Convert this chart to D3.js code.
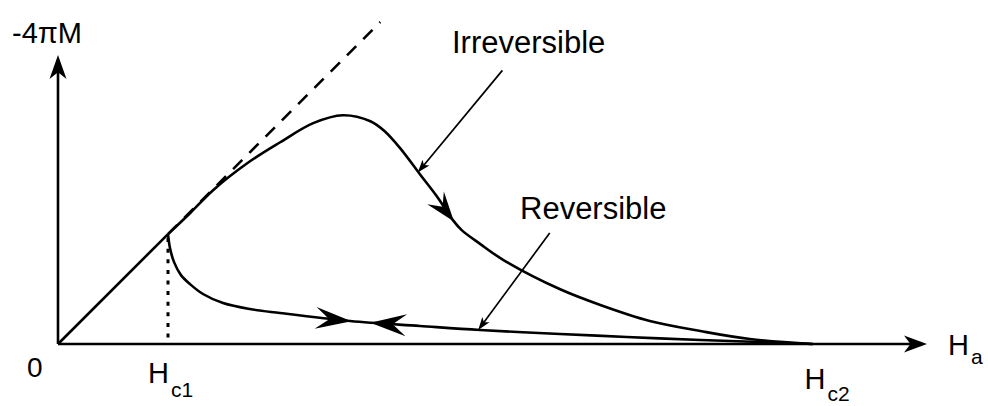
<!DOCTYPE html>
<html>
<head>
<meta charset="utf-8">
<script src="https://cdn.jsdelivr.net/npm/d3@7"></script>
<style>
  html, body { margin: 0; padding: 0; background: #fff; }
  svg { display: block; }
  text { font-family: "Liberation Sans", Arial, Helvetica, sans-serif; fill: #000; }
</style>
</head>
<body>
<svg id="chart" width="988" height="406"></svg>
<script>
// Magnetization of a type-II superconductor versus applied field.
// Field values are in units of Hc1; -4πM uses the same units (Meissner slope = 1).

const hc1 = 1.0;
const hc2 = 6.86;
const meissnerEnd = 2.93;

// Irreversible (pinned) branch, increasing field
const irreversibleH = [1.0, 1.2, 1.41, 1.72, 2.02, 2.32, 2.59, 2.84, 2.97, 3.11, 3.29, 3.45, 3.59, 3.67, 3.84, 4.05, 4.56, 4.93, 5.38, 5.84, 6.29, 6.86];
const irreversibleM = [1.0, 1.19, 1.4, 1.645, 1.836, 2.01, 2.082, 2.027, 1.936, 1.782, 1.545, 1.336, 1.127, 1.036, 0.909, 0.764, 0.5, 0.355, 0.209, 0.118, 0.045, 0];

// Reversible branch
const reversibleH = [1.0, 1.018, 1.055, 1.118, 1.2, 1.318, 1.5, 1.745, 2.018, 2.655, 3.29, 3.836, 4.564, 5.17, 5.84, 6.38, 6.86];
const reversibleM = [1.0, 0.873, 0.745, 0.627, 0.545, 0.455, 0.373, 0.318, 0.282, 0.209, 0.164, 0.127, 0.091, 0.064, 0.036, 0.018, 0];

// Direction arrows placed on the curves: field position and direction (+1 right, -1 left)
const irreversibleArrowsH = [3.6];
const reversibleArrowsH = [2.67, 2.84];
const reversibleArrowsDir = [1, -1];

// Callout labels with their leader lines (start -> tip, in data units)
const calloutLabels = ["Irreversible", "Reversible"];
const calloutFromH = [4.04, 4.47];
const calloutFromM = [2.49, 1.01];
const calloutToH = [3.27, 3.82];
const calloutToM = [1.56, 0.127];

// Axis extents
const xMax = 7.9;
const yMax = 2.63;

const svg = d3.select("#chart");
const x = d3.scaleLinear().domain([0, xMax]).range([58, 927]);
const y = d3.scaleLinear().domain([0, yMax]).range([344, 55]);

// Barbed arrowhead pointing along +x, tip at origin
function arrowPath(L, W, notch) {
  return `M0,0 L${-L},${-W} L${-L * notch},0 L${-L},${W} Z`;
}
function drawArrowHead(px, py, angleDeg, L, W, notch) {
  svg.append("path")
    .attr("d", arrowPath(L, W, notch))
    .attr("transform", `translate(${px},${py}) rotate(${angleDeg})`)
    .attr("fill", "#000");
}

// Axes
svg.append("line")
  .attr("x1", x(0)).attr("y1", y(0)).attr("x2", x(xMax) - 10).attr("y2", y(0))
  .attr("stroke", "#000").attr("stroke-width", 2.6);
svg.append("line")
  .attr("x1", x(0)).attr("y1", y(0)).attr("x2", x(0)).attr("y2", y(yMax) + 10)
  .attr("stroke", "#000").attr("stroke-width", 2.6);
drawArrowHead(x(xMax), y(0), 0, 23, 8.5, 0.72);
drawArrowHead(x(0), y(yMax), -90, 24, 8.5, 0.72);

// Meissner line: solid up to Hc1, dashed extrapolation beyond
svg.append("line")
  .attr("x1", x(0)).attr("y1", y(0)).attr("x2", x(hc1)).attr("y2", y(hc1))
  .attr("stroke", "#000").attr("stroke-width", 2.6);
svg.append("line")
  .attr("x1", x(hc1)).attr("y1", y(hc1)).attr("x2", x(meissnerEnd)).attr("y2", y(meissnerEnd))
  .attr("stroke", "#000").attr("stroke-width", 2.6)
  .attr("stroke-dasharray", "13,10");

// Dotted marker at Hc1
svg.append("line")
  .attr("x1", x(hc1)).attr("y1", y(hc1) + 4).attr("x2", x(hc1)).attr("y2", y(0))
  .attr("stroke", "#000").attr("stroke-width", 3)
  .attr("stroke-dasharray", "4,6.6");

const line = d3.line()
  .x(d => x(d[0]))
  .y(d => y(d[1]))
  .curve(d3.curveCatmullRom.alpha(0.5));

const irrPts = irreversibleH.map((h, i) => [h, irreversibleM[i]]);
const revPts = reversibleH.map((h, i) => [h, reversibleM[i]]);

const irrPath = svg.append("path")
  .attr("d", line(irrPts))
  .attr("fill", "none").attr("stroke", "#000").attr("stroke-width", 2.6);
const revPath = svg.append("path")
  .attr("d", line(revPts))
  .attr("fill", "none").attr("stroke", "#000").attr("stroke-width", 2.6);

// Place an arrowhead on a path at the given field value
function arrowOnPath(pathNode, h, dir, L, W, notch) {
  const total = pathNode.getTotalLength();
  const target = x(h);
  let best = 0, bestD = Infinity;
  for (let l = 0; l <= total; l += 0.5) {
    const p = pathNode.getPointAtLength(l);
    const d = Math.abs(p.x - target);
    if (d < bestD && l > 20) { bestD = d; best = l; }
  }
  const p = pathNode.getPointAtLength(best);
  const a = pathNode.getPointAtLength(Math.max(0, best - 3));
  const b = pathNode.getPointAtLength(Math.min(total, best + 3));
  let ang = Math.atan2(b.y - a.y, b.x - a.x) * 180 / Math.PI;
  if (dir < 0) ang += 180;
  drawArrowHead(p.x, p.y, ang, L, W, notch);
}

irreversibleArrowsH.forEach(h => arrowOnPath(irrPath.node(), h, 1, 30, 10.5, 0.62));
reversibleArrowsH.forEach((h, i) => arrowOnPath(revPath.node(), h, reversibleArrowsDir[i], 36, 11, 0.62));

// Callouts
const calloutTextPos = [[452, 53], [520, 219]];
calloutLabels.forEach((label, i) => {
  const x1 = x(calloutFromH[i]), y1 = y(calloutFromM[i]);
  const x2 = x(calloutToH[i]), y2 = y(calloutToM[i]);
  const ang = Math.atan2(y2 - y1, x2 - x1) * 180 / Math.PI;
  svg.append("line")
    .attr("x1", x1).attr("y1", y1).attr("x2", x2 - 6 * Math.cos(ang * Math.PI / 180)).attr("y2", y2 - 6 * Math.sin(ang * Math.PI / 180))
    .attr("stroke", "#000").attr("stroke-width", 1.7);
  drawArrowHead(x2, y2, ang, 13, 4.5, 0.75);
  svg.append("text")
    .attr("x", calloutTextPos[i][0]).attr("y", calloutTextPos[i][1])
    .attr("font-size", 31)
    .text(label);
});

// Axis labels
svg.append("text")
  .attr("x", 12).attr("y", 43)
  .attr("font-size", 29)
  .text("-4πM");

svg.append("text")
  .attr("x", 27).attr("y", 377)
  .attr("font-size", 28)
  .text("0");

function subLabel(px, py, main, sub, subDy) {
  const t = svg.append("text").attr("x", px).attr("y", py).attr("font-size", 29);
  t.append("tspan").text(main);
  t.append("tspan").attr("dx", 2).attr("dy", subDy).attr("font-size", 21).text(sub);
}
subLabel(x(hc1) - 20, 383, "H", "c1", 14);
subLabel(x(hc2) - 8, 389, "H", "c2", 12);
subLabel(948, 355, "H", "a", 9);
</script>
</body>
</html>
